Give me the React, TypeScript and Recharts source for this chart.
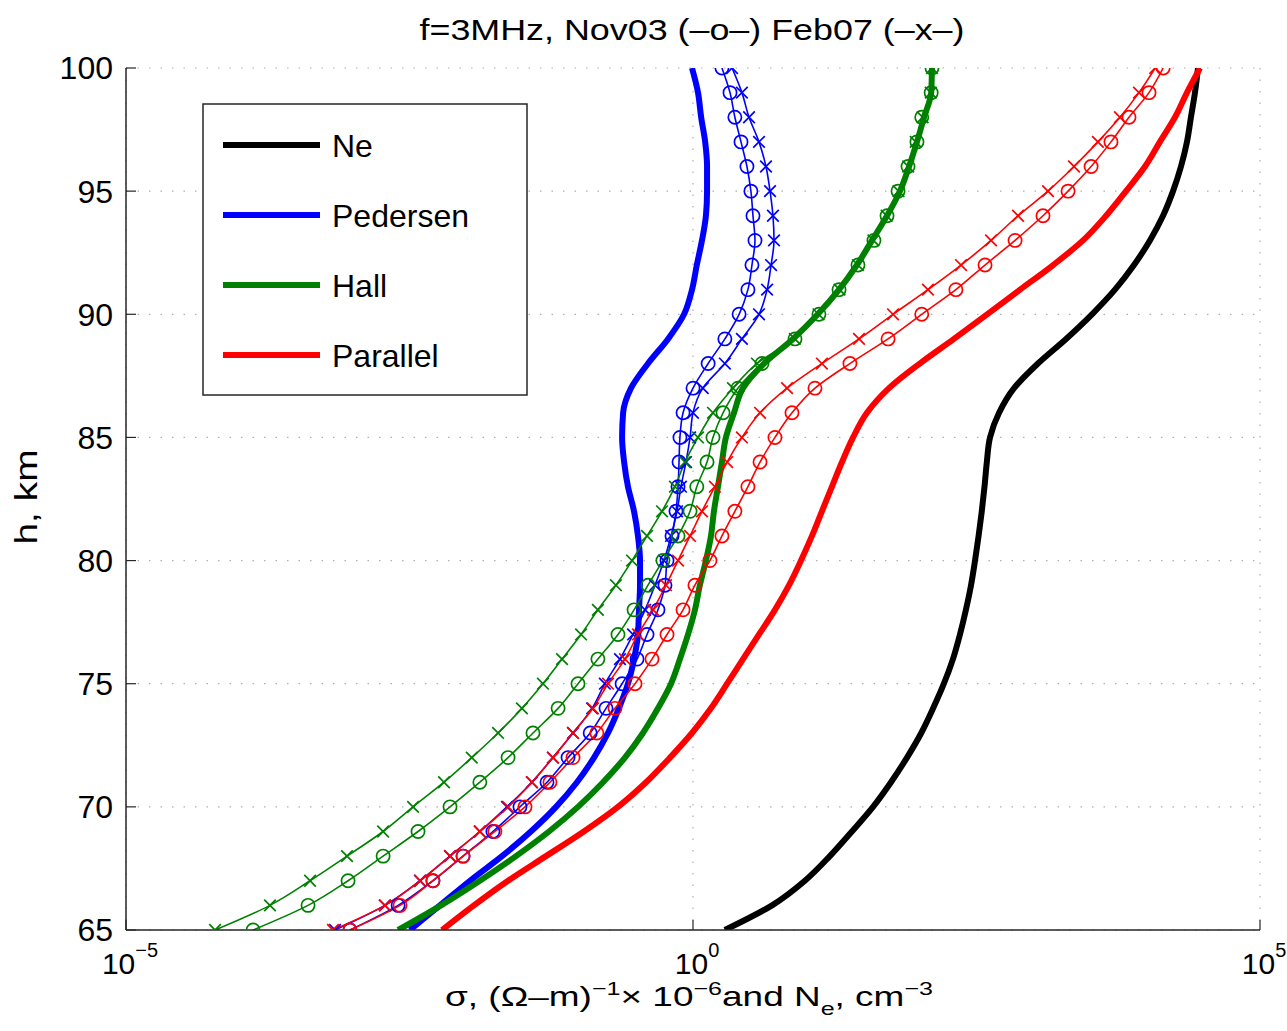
import React from 'react';
import { LineChart, Line, XAxis, YAxis, CartesianGrid, Legend } from 'recharts';

// altitude (km), one row per km
const heights = [65, 66, 67, 68, 69, 70, 71, 72, 73, 74, 75, 76, 77, 78, 79, 80, 81, 82, 83, 84, 85, 86, 87, 88, 89, 90, 91, 92, 93, 94, 95, 96, 97, 98, 99, 100];

// thick curves (no markers)
const neDensity = [1.91, 4.98, 9.7, 16.1, 25.2, 38.7, 55.7, 77.1, 103, 131, 163, 196, 226, 255, 283, 307, 330, 352, 372, 390, 416, 500, 678, 1100, 1950, 3300, 5260, 7740, 10700, 13960, 17100, 20100, 22700, 24600, 26700, 28400];
const pedersen = [0.00319, 0.00587, 0.0108, 0.0207, 0.0372, 0.062, 0.0948, 0.134, 0.178, 0.222, 0.267, 0.302, 0.327, 0.334, 0.341, 0.341, 0.327, 0.302, 0.267, 0.247, 0.237, 0.242, 0.284, 0.401, 0.603, 0.834, 0.98, 1.08, 1.2, 1.3, 1.33, 1.33, 1.28, 1.18, 1.107, 0.98];
const hall = [0.00251, 0.006, 0.0132, 0.0275, 0.0537, 0.0968, 0.161, 0.251, 0.362, 0.491, 0.64, 0.767, 0.904, 1.04, 1.15, 1.3, 1.44, 1.53, 1.66, 1.8, 1.95, 2.3, 2.76, 4.23, 7.62, 12.6, 19.4, 27.9, 37.9, 51.4, 66.9, 80.4, 94.4, 109, 126, 128];
const parallel = [0.00612, 0.0117, 0.0234, 0.0506, 0.109, 0.218, 0.386, 0.627, 0.98, 1.44, 2.0, 2.76, 3.82, 5.28, 7.03, 8.96, 11.2, 13.7, 16.8, 20.6, 25.8, 34.2, 53.5, 100, 200, 392, 766, 1500, 2750, 4390, 6580, 9680, 13100, 17800, 22700, 29600];

// Nov03 (-o-)
const pedersenNov03 = [0.000944, 0.00251, 0.00509, 0.00938, 0.0172, 0.0298, 0.0516, 0.0791, 0.124, 0.171, 0.237, 0.321, 0.393, 0.491, 0.566, 0.59, 0.653, 0.708, 0.738, 0.753, 0.767, 0.817, 1.0, 1.36, 1.91, 2.55, 3.05, 3.31, 3.52, 3.38, 3.24, 2.99, 2.65, 2.34, 2.12, 1.8];
const hallNov03 = [0.000132, 0.000403, 0.000908, 0.00185, 0.00376, 0.0072, 0.0132, 0.0234, 0.0388, 0.0646, 0.0968, 0.145, 0.218, 0.302, 0.401, 0.543, 0.738, 0.942, 1.08, 1.33, 1.5, 1.84, 2.49, 4.06, 7.93, 12.9, 19.4, 28.5, 39.4, 51.4, 64.3, 78.7, 94.4, 104, 126, 128];
const parallelNov03 = [0.000944, 0.00261, 0.00509, 0.00938, 0.0179, 0.033, 0.0548, 0.0875, 0.142, 0.205, 0.308, 0.435, 0.59, 0.817, 1.04, 1.41, 1.8, 2.34, 3.05, 3.9, 5.28, 7.46, 11.9, 24.2, 52.5, 104, 208, 376, 692, 1220, 2030, 3240, 4850, 7000, 10500, 14000];

// Feb07 (-x-)
const pedersenFeb07 = [0.000697, 0.00192, 0.00392, 0.0072, 0.0132, 0.0229, 0.038, 0.0582, 0.0875, 0.129, 0.167, 0.227, 0.296, 0.378, 0.462, 0.555, 0.64, 0.723, 0.783, 0.867, 0.942, 1.0, 1.22, 1.91, 2.7, 3.82, 4.5, 4.88, 5.18, 5.07, 4.78, 4.4, 3.82, 3.12, 2.7, 2.21];
const hallFeb07 = [0.000061, 0.000186, 0.00042, 0.000889, 0.00185, 0.0034, 0.00637, 0.0112, 0.0191, 0.031, 0.0475, 0.07, 0.103, 0.145, 0.209, 0.29, 0.393, 0.533, 0.693, 0.849, 1.107, 1.5, 2.25, 3.66, 7.9, 12.8, 19.6, 28.5, 39, 51, 65, 79, 92, 106, 125, 128];
const parallelFeb07 = [0.000668, 0.00192, 0.00392, 0.0072, 0.0132, 0.0234, 0.038, 0.0582, 0.0875, 0.131, 0.178, 0.251, 0.327, 0.444, 0.578, 0.738, 0.942, 1.2, 1.56, 2.0, 2.7, 3.9, 6.75, 13.7, 29.1, 58.1, 118, 231, 425, 735, 1350, 2290, 3720, 5820, 8570, 11900];

const xTicks = [1e-5, 1, 1e5];
const xTickExponents = ['\u22125', '0', '5'];
const yTicks = [65, 70, 75, 80, 85, 90, 95, 100];
const legendNames = ['Ne', 'Pedersen', 'Hall', 'Parallel'];
const legendColors = ['#000000', '#0000ff', '#008000', '#ff0000'];
const chartTitle = 'f=3MHz, Nov03 (\u2013o\u2013) Feb07 (\u2013x\u2013)';

const data = heights.map((h, i) => ({
  h,
  ne: neDensity[i],
  ped: pedersen[i],
  hall: hall[i],
  par: parallel[i],
  pedO: pedersenNov03[i],
  hallO: hallNov03[i],
  parO: parallelNov03[i],
  pedX: pedersenFeb07[i],
  hallX: hallFeb07[i],
  parX: parallelFeb07[i],
}));

const FONT = '"Liberation Sans", Arial, Helvetica, sans-serif';
const FRAME = '#262626';

const circleDot = (color: string) => (p: any) => {
  if (p.cx == null || p.cy == null) return <g key={`c${p.index}`} />;
  return <circle key={`c${p.index}`} cx={p.cx} cy={p.cy} r={6.6} fill="none" stroke={color} strokeWidth={1.7} />;
};

const crossDot = (color: string) => (p: any) => {
  if (p.cx == null || p.cy == null) return <g key={`x${p.index}`} />;
  const s = 5.8;
  const { cx, cy } = p;
  return (
    <path
      key={`x${p.index}`}
      d={`M${cx - s},${cy - s}L${cx + s},${cy + s}M${cx - s},${cy + s}L${cx + s},${cy - s}`}
      stroke={color}
      strokeWidth={1.7}
      fill="none"
    />
  );
};

const XTick = (props: any) => {
  const { x, y, payload } = props;
  const idx = xTicks.indexOf(payload.value);
  const exp = idx >= 0 ? xTickExponents[idx] : '';
  return (
    <text x={x + 4} y={y + 44} textAnchor="middle" fontFamily={FONT} fontSize={30} fill="#000">
      <tspan>10</tspan>
      <tspan dy={-17} fontSize={20}>{exp}</tspan>
    </text>
  );
};

const EmptyTick = () => <g />;

const LegendBox = () => (
  <svg width={327} height={294} style={{ display: 'block' }}>
    <rect x={1} y={1} width={324} height={291} fill="#ffffff" stroke={FRAME} strokeWidth={1.5} />
    {legendNames.map((name, i) => (
      <g key={name}>
        <line x1={21} x2={118} y1={42 + i * 70} y2={42 + i * 70} stroke={legendColors[i]} strokeWidth={6} />
        <text x={130} y={42 + i * 70} dy="0.36em" fontFamily={FONT} fontSize={32} fill="#000">
          {name}
        </text>
      </g>
    ))}
  </svg>
);

export default function App() {
  return (
    <div style={{ position: 'absolute', left: 0, top: 0, width: 1287, height: 1031, background: '#fff' }}>
      <LineChart
        width={1287}
        height={1031}
        data={data}
        layout="vertical"
        margin={{ top: 68, right: 27, bottom: 0, left: 0 }}
      >
        <CartesianGrid stroke="#b0b0b0" strokeWidth={1.2} strokeDasharray="1.5 10" />
        <XAxis
          type="number"
          scale="log"
          domain={[1e-5, 1e5]}
          allowDataOverflow
          ticks={xTicks}
          interval={0}
          height={101}
          axisLine={{ stroke: FRAME, strokeWidth: 1.5 }}
          tickLine={{ stroke: FRAME, strokeWidth: 1.2 }}
          tickSize={-10}
          tickMargin={10}
          tick={<XTick />}
        />
        <XAxis
          xAxisId="top"
          orientation="top"
          type="number"
          scale="log"
          domain={[1e-5, 1e5]}
          allowDataOverflow
          ticks={xTicks}
          interval={0}
          height={0}
          axisLine={{ stroke: FRAME, strokeWidth: 1.5 }}
          tickLine={{ stroke: FRAME, strokeWidth: 1.2 }}
          tickSize={-10}
          tick={EmptyTick}
        />
        <YAxis
          type="number"
          dataKey="h"
          domain={[65, 100]}
          allowDataOverflow
          reversed
          ticks={yTicks}
          interval={0}
          width={126}
          axisLine={{ stroke: FRAME, strokeWidth: 1.5 }}
          tickLine={{ stroke: FRAME, strokeWidth: 1.2 }}
          tickSize={-10}
          tickMargin={23}
          tick={{ fontSize: 32, fill: '#000', fontFamily: FONT }}
        />
        <YAxis
          yAxisId="right"
          orientation="right"
          type="number"
          dataKey="h"
          domain={[65, 100]}
          allowDataOverflow
          reversed
          ticks={yTicks}
          interval={0}
          width={0}
          axisLine={{ stroke: FRAME, strokeWidth: 1.5 }}
          tickLine={{ stroke: FRAME, strokeWidth: 1.2 }}
          tickSize={-10}
          tick={EmptyTick}
        />

        <Line dataKey="ne" name="Ne" type="monotone" stroke="#000000" strokeWidth={6} dot={false} isAnimationActive={false} />
        <Line dataKey="ped" name="Pedersen" type="monotone" stroke="#0000ff" strokeWidth={6} dot={false} isAnimationActive={false} />
        <Line dataKey="hall" name="Hall" type="monotone" stroke="#008000" strokeWidth={6} dot={false} isAnimationActive={false} />
        <Line dataKey="par" name="Parallel" type="monotone" stroke="#ff0000" strokeWidth={6} dot={false} isAnimationActive={false} />

        <Line dataKey="pedO" type="monotone" stroke="#0000ff" strokeWidth={1.6} dot={circleDot('#0000ff')} isAnimationActive={false} legendType="none" />
        <Line dataKey="pedX" type="monotone" stroke="#0000ff" strokeWidth={1.6} dot={crossDot('#0000ff')} isAnimationActive={false} legendType="none" />
        <Line dataKey="hallO" type="monotone" stroke="#008000" strokeWidth={1.6} dot={circleDot('#008000')} isAnimationActive={false} legendType="none" />
        <Line dataKey="hallX" type="monotone" stroke="#008000" strokeWidth={1.6} dot={crossDot('#008000')} isAnimationActive={false} legendType="none" />
        <Line dataKey="parO" type="monotone" stroke="#ff0000" strokeWidth={1.6} dot={circleDot('#ff0000')} isAnimationActive={false} legendType="none" />
        <Line dataKey="parX" type="monotone" stroke="#ff0000" strokeWidth={1.6} dot={crossDot('#ff0000')} isAnimationActive={false} legendType="none" />

        <Legend
          layout="vertical"
          align="center"
          verticalAlign="middle"
          content={() => <LegendBox />}
          wrapperStyle={{ left: 202, top: 103, width: 327, height: 294 }}
        />

        <text x={692} y={40} textAnchor="middle" fontFamily={FONT} fontSize={30} fill="#000" textLength={545} lengthAdjust="spacingAndGlyphs">
          {chartTitle}
        </text>
        <text x={689} y={1006} textAnchor="middle" fontFamily={FONT} fontSize={28} fill="#000" textLength={488} lengthAdjust="spacingAndGlyphs">
          <tspan>{'\u03c3, (\u03a9\u2013m)'}</tspan>
          <tspan dy={-11} fontSize={19}>{'\u22121'}</tspan>
          <tspan dy={11}>{'\u00d7 10'}</tspan>
          <tspan dy={-11} fontSize={19}>{'\u22126'}</tspan>
          <tspan dy={11}>{'and N'}</tspan>
          <tspan dy={9} fontSize={19}>{'e'}</tspan>
          <tspan dy={-9}>{', cm'}</tspan>
          <tspan dy={-11} fontSize={19}>{'\u22123'}</tspan>
        </text>
        <text x={37} y={497} transform="rotate(-90 37 497)" textAnchor="middle" fontFamily={FONT} fontSize={32} fill="#000" textLength={95} lengthAdjust="spacingAndGlyphs">
          h, km
        </text>
      </LineChart>
    </div>
  );
}
